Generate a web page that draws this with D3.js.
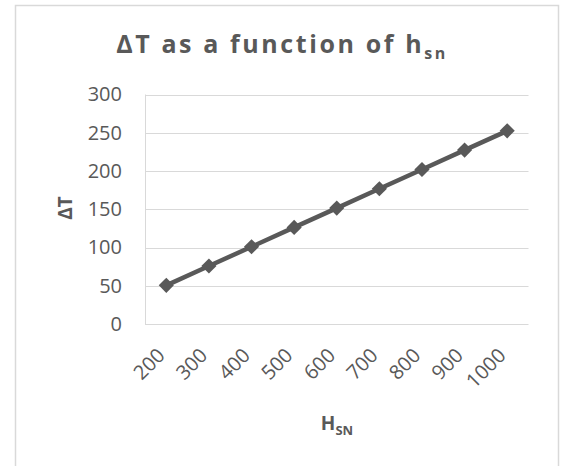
<!DOCTYPE html>
<html><head><meta charset="utf-8">
<script src="https://cdn.jsdelivr.net/npm/d3@7"></script>
<style>
html,body{margin:0;padding:0;background:#fff;}
svg{display:block;font-family:"Open Sans",sans-serif;}
</style></head>
<body><svg id="c" width="564" height="466"></svg>
<script>
const categories = ["200","300","400","500","600","700","800","900","1000"];
const values = [50.5, 75.8, 101, 126.3, 151.5, 176.8, 202, 227.3, 252.5];
const yTicks = [0, 50, 100, 150, 200, 250, 300];

const svg = d3.select("#c");
const W = 564, H = 466;
const m = {left:145, right:35.5, top:94.5, bottom:142};
const pw = W - m.left - m.right, ph = H - m.top - m.bottom;
const col = "#595959", grid = "#d9d9d9";

// outer border
svg.append("rect").attr("x",15.5).attr("y",5.5).attr("width",543).attr("height",470)
  .attr("fill","#fff").attr("stroke","#d9d9d9").attr("stroke-width",1.5);

const x = d3.scaleBand().domain(categories).range([m.left, m.left+pw]);
const y = d3.scaleLinear().domain([0,300]).range([m.top+ph, m.top]);

// gridlines
svg.append("g").selectAll("line").data(yTicks.filter(d=>d>0)).join("line")
  .attr("x1",m.left).attr("x2",m.left+pw)
  .attr("y1",d=>Math.round(y(d))+0.5).attr("y2",d=>Math.round(y(d))+0.5)
  .attr("stroke",grid).attr("stroke-width",1);

// axes lines
svg.append("line").attr("x1",m.left).attr("x2",m.left+pw)
  .attr("y1",Math.round(y(0))+0.5).attr("y2",Math.round(y(0))+0.5).attr("stroke",grid);
svg.append("line").attr("x1",m.left+0.5).attr("x2",m.left+0.5)
  .attr("y1",y(300)).attr("y2",Math.round(y(0))+0.5).attr("stroke",grid);

// y axis labels
const yAxis = d3.axisLeft(y).tickValues(yTicks).tickSize(0).tickPadding(23);
const gy = svg.append("g").attr("transform",`translate(${m.left},0)`).call(yAxis);
gy.select(".domain").remove();
gy.selectAll("text").attr("font-size",20).attr("fill",col).attr("font-family","Open Sans");

// x axis labels
const xAxis = d3.axisBottom(x).tickSize(0).tickPadding(0);
const gx = svg.append("g").attr("transform",`translate(0,${y(0)})`).call(xAxis);
gx.select(".domain").remove();
gx.selectAll("text").attr("font-size",20).attr("fill",col).attr("font-family","Open Sans")
  .attr("text-anchor","end").attr("dy",null).attr("y",0)
  .attr("transform","translate(-4,29) rotate(-45)")
  .attr("dominant-baseline","middle");

// line
const line = d3.line().x((d,i)=>x(categories[i])+x.bandwidth()/2).y(d=>y(d));
svg.append("path").datum(values).attr("d",line).attr("fill","none")
  .attr("stroke",col).attr("stroke-width",4.5).attr("stroke-linejoin","round");

// markers
svg.append("g").selectAll("path").data(values).join("path")
  .attr("d",d3.symbol(d3.symbolSquare, 115))
  .attr("transform",(d,i)=>`translate(${x(categories[i])+x.bandwidth()/2},${y(d)}) rotate(45)`)
  .attr("fill",col);

// title
const t = svg.append("text").attr("x",282).attr("y",53).attr("text-anchor","middle")
  .attr("font-size",25).attr("font-weight","bold").attr("fill",col).attr("letter-spacing",2.6);
t.append("tspan").text("ΔT as a function of h");
t.append("tspan").attr("font-size",16).attr("dy",6).text("sn");

// y title
svg.append("text").attr("transform","translate(72,208) rotate(-90)").attr("text-anchor","middle")
  .attr("font-size",19).attr("font-weight","bold").attr("fill",col).text("ΔT");

// x title
const xt = svg.append("text").attr("x",337).attr("y",430).attr("text-anchor","middle")
  .attr("font-size",19).attr("font-weight","bold").attr("fill",col);
xt.append("tspan").text("H");
xt.append("tspan").attr("font-size",13).attr("dy",5).text("SN");
</script></body></html>
